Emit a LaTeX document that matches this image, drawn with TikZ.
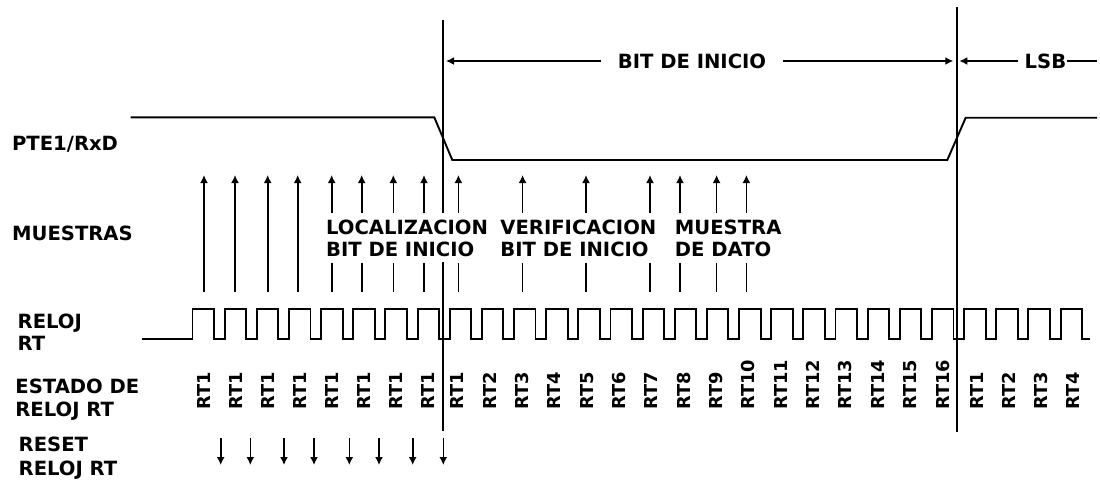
\documentclass[tikz,border=0pt]{standalone}
\usepackage{fontspec}
\newfontfamily\lblfont{DejaVu Sans}
\usetikzlibrary{arrows.meta}
\tikzset{
  sig/.style={line width=0.95pt, line join=miter, draw=black},
  vline/.style={line width=0.9pt, draw=black},
  shaft/.style={line width=0.8pt, draw=black},
  arr/.style={line width=0.8pt, draw=black, -{Latex[length=4pt,width=4pt]}},
  lbl/.style={font=\lblfont\bfseries\fontsize{9.8}{11}\selectfont, inner sep=0pt, anchor=base west},
  toplbl/.style={font=\lblfont\bfseries\fontsize{9.8}{11}\selectfont, inner ysep=0pt},
  rtlbl/.style={font=\lblfont\bfseries\fontsize{8.9}{10}\selectfont, inner sep=0pt, rotate=90, anchor=west}
}
\begin{document}
\begin{tikzpicture}[x=0.5pt,y=-0.5pt]
\useasboundingbox (0,0) rectangle (1100,479);
% bit boundary lines
\coordinate (L1) at (442.7,20);
\coordinate (L1a) at (442.7,213);
\coordinate (L1b) at (442.7,262);
\coordinate (L1c) at (442.7,431);
\coordinate (L2) at (956.7,7);
\coordinate (L2c) at (956.7,432);
\draw[vline] (L1) -- (L1a);
\draw[vline] (L1b) -- (L1c);
\draw[vline] (L2) -- (L2c);
% top labels
\node[toplbl, inner xsep=8pt] (bit) at (692,61) {BIT DE INICIO};
\coordinate (bitL) at (446,61);
\coordinate (bitR) at (953.3,61);
\draw[arr] (bit.west) -- (bitL);
\draw[arr] (bit.east) -- (bitR);
\node[toplbl, inner xsep=0pt] (lsb) at (1045.5,61) {LSB};
\coordinate (lsbL) at (959.3,61);
\coordinate (lsbR) at (1097,61);
\draw[arr] ([xshift=-3pt]lsb.west) -- (lsbL);
\draw[shaft, line width=0.9pt] (lsb.east) -- (lsbR);
% PTE1/RxD signal
\draw[sig] (130.5,117.3) -- (434.3,117.3) -- (452.3,160) -- (947.3,160) -- (965.7,117.7) -- (1097,117.7);
% clock
\draw[sig] (142,339) \foreach \k in {0,...,27} {
   -- ({192.5+32.15*\k},339) -- ({192.5+32.15*\k},309) -- ({214+32.15*\k},309) -- ({214+32.15*\k},339) } -- (1090,339);
% sample arrows
\foreach \x in {204,235,267.7,297.7} {
  \draw[arr] (\x,292) -- (\x,175);
}
\foreach \x in {331.7,361.7,393.3,424,458.4,522.6,586,650,680,716.6,746.4} {
  \draw[arr] (\x,213) -- (\x,175);
  \draw[shaft] (\x,262.7) -- (\x,292);
}
% reset arrows
\foreach \x in {220.7,250.3,284,314,349.3,379,412.7,443.3} {
  \draw[arr] (\x,438) -- (\x,465);
}
% middle labels
\node[lbl] (loc1) at (325.7,234) {LOCALIZACION};
\node[lbl] (loc2) at (325.7,256.7) {BIT DE INICIO};
\node[lbl] (ver1) at (500,234) {VERIFICACION};
\node[lbl] (ver2) at (500,256.7) {BIT DE INICIO};
\node[lbl] (mue1) at (674.5,234) {MUESTRA};
\node[lbl] (mue2) at (674.5,256.7) {DE DATO};
% left labels
\node[lbl] (pte) at (11.7,150) {PTE1/RxD};
\node[lbl] (mues) at (11.7,240) {MUESTRAS};
\node[lbl] (rel1) at (17.3,328.3) {RELOJ};
\node[lbl] (rel2) at (17.3,350) {RT};
\node[lbl] (est1) at (15,393.3) {ESTADO DE};
\node[lbl] (est2) at (15,416.7) {RELOJ RT};
\node[lbl] (res1) at (18.3,451.7) {RESET};
\node[lbl] (res2) at (18.3,475) {RELOJ RT};
% RT state labels
\foreach \k in {0,...,7} {
  \node[rtlbl] (rta\k) at ({204+32*\k},410) {RT1};
}
\foreach \k in {1,...,16} {
  \node[rtlbl] (rtb\k) at ({457.3+32.35*(\k-1)},410) {RT\k};
}
\foreach \k in {1,...,4} {
  \node[rtlbl] (rtc\k) at ({976.7+32.2*(\k-1)},410) {RT\k};
}
\end{tikzpicture}
\end{document}
